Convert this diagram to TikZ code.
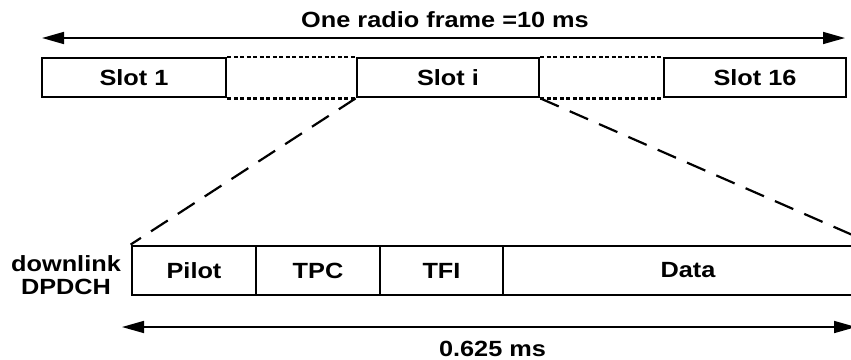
\documentclass[tikz,border=0pt]{standalone}
\usepackage{fontspec}
\setmainfont{Liberation Sans}[FakeStretch=1.15]
\usetikzlibrary{arrows.meta}
\tikzset{
  box/.style={draw, line width=2.8pt, inner sep=0pt, font=\fontsize{22}{25}\selectfont\bfseries},
  label/.style={inner sep=0pt, font=\fontsize{22}{25}\selectfont\bfseries},
  span/.style={line width=1.7pt, {Triangle[length=22pt,width=12pt]}-{Triangle[length=22pt,width=12pt]}},
  gap/.style={line width=2.2pt, dash pattern=on 4pt off 2.5pt},
  zoomline/.style={line width=2.2pt, dash pattern=on 20pt off 12pt},
}
\begin{document}
\begin{tikzpicture}[x=1pt,y=1pt]
  \clip (0,0) rectangle (851,-359);
  \fill[white] (0,0) rectangle (851,-359);

  % radio frame
  \node[label, anchor=base] (title) at (445,-27) {One radio frame =10 ms};
  \coordinate (fl) at (42,-38);
  \coordinate (fr) at (845,-38);
  \draw[span] (fl) -- (fr);

  \node[box, minimum width=184pt, minimum height=39pt] (s1) at (134,-77.5) {Slot 1};
  \node[box, minimum width=182pt, minimum height=39pt] (si) at (448,-77.5) {Slot i};
  \node[box, minimum width=182pt, minimum height=39pt] (s16) at (755,-77.5) {Slot 16};

  \draw[gap] (s1.north east) -- (si.north west);
  \draw[gap] (s1.south east) -- (si.south west);
  \draw[gap] (si.north east) -- (s16.north west);
  \draw[gap] (si.south east) -- (s16.south west);

  % expanded slot
  \node[box, minimum width=124pt, minimum height=49pt] (pilot) at (194,-270.5) {Pilot};
  \node[box, minimum width=124pt, minimum height=49pt] (tpc) at (318,-270.5) {TPC};
  \node[box, minimum width=123pt, minimum height=49pt] (tfi) at (441.5,-270.5) {TFI};
  \node[box, minimum width=370pt, minimum height=49pt] (data) at (688,-270.5) {Data};

  \draw[zoomline] (si.south west) -- (pilot.north west);
  \draw[zoomline] (si.south east) -- (data.north east);

  \node[label, anchor=base] (ch1) at (66,-271) {downlink};
  \node[label, anchor=base] (ch2) at (66,-294) {DPDCH};

  \coordinate (sl) at (122,-327);
  \coordinate (sr) at (856,-327);
  \draw[span] (sl) -- (sr);
  \node[label, anchor=base] (dur) at (492.5,-356) {0.625 ms};
\end{tikzpicture}
\end{document}
